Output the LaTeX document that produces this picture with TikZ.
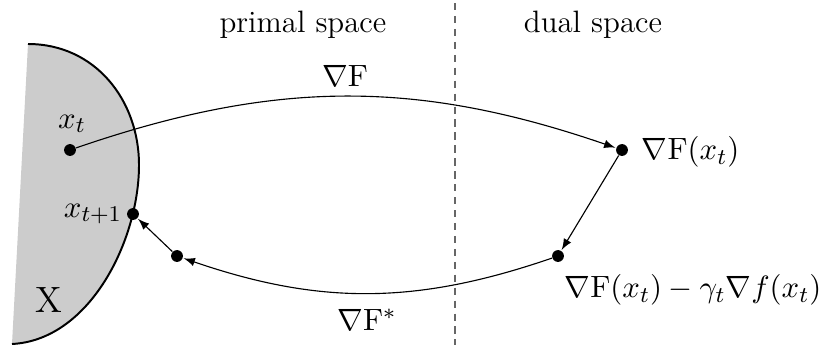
\documentclass[tikz,border=0pt]{standalone}
\usepackage{amsmath,amssymb}
\usepackage{tikz}
\usetikzlibrary{arrows,positioning}

\tikzset{
	pt/.style={circle, fill=black, inner sep=0pt, minimum size=4.2pt},
	map/.style={->, thin, shorten >=0.2pt},
}

\begin{document}
\begin{tikzpicture}[>=latex, x=0.0125cm, y=-0.0125cm, every node/.style={font=\fontsize{11}{13}\selectfont}]
	\useasboundingbox (0,0) rectangle (837,352);
	% the set X
	\filldraw[fill=black!20, draw=none] (28,44) .. controls (95,44) and (139,100) .. (139,165)
		.. controls (139,240) and (90,340) .. (12,344) -- cycle;
	\draw[line width=0.7pt] (28,44) .. controls (95,44) and (139,100) .. (139,165)
		.. controls (139,240) and (90,340) .. (12,344);
	% separator
	\coordinate (sepT) at (455,3);
	\coordinate (sepB) at (455,345);
	\draw[black!60, dash pattern=on 2.6pt off 2pt] (sepT) -- (sepB);
	\node (primal) at (303,25) {primal space};
	\node (dual)   at (593,25) {dual space};
	% points
	\node[pt] (xt)  at (70,150)  {};
	\node[pt] (xt1) at (133,214) {};
	\node[pt] (yt)  at (177,256) {};
	\node[pt] (gx)  at (622,150) {};
	\node[pt] (gs)  at (558,256) {};
	\node (lxt)  at (72,124)  {$x_t$};
	\node (lxt1) at (93,214)  {$x_{t+1}$};
	\node[anchor=west] (lgx) at (632,152) {$\nabla\mathrm{F}(x_t)$};
	\node (lgs) at (693,290) {$\nabla\mathrm{F}(x_t)-\gamma_t\nabla f(x_t)$};
	\node[font=\fontsize{13}{15}\selectfont] (lX) at (49,300) {X};
	\node (lF)  at (345,76)  {$\nabla\mathrm{F}$};
	\node (lFs) at (367,320) {$\nabla\mathrm{F}^{*}$};
	% maps
	\draw[map] (xt) to[bend left=19] (gx);
	\draw[map] (gx) -- (gs);
	\draw[map] (gs) to[bend left=19] (yt);
	\draw[map] (yt) -- (xt1);
\end{tikzpicture}
\end{document}
